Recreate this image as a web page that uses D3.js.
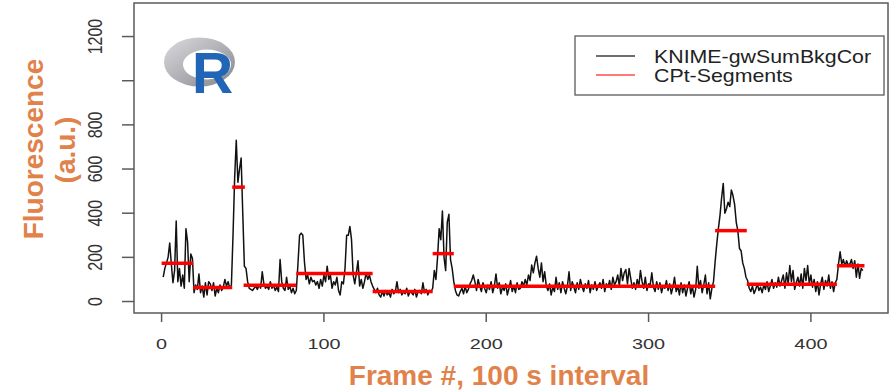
<!DOCTYPE html>
<html>
<head>
<meta charset="utf-8">
<script src="https://cdn.jsdelivr.net/npm/d3@7"></script>
<style>
  body { margin: 0; background: #fff; }
  text { font-family: "Liberation Sans", Arial, sans-serif; }
</style>
</head>
<body>
<svg id="chart"></svg>
<script>
// fluorescence trace, one value per frame, frame 1 .. 432
const fluor = [
  110,150,175,200,265,170,85,140,365,90,150,70,120,60,330,270,90,215,195,
  40,75,55,125,40,70,20,85,30,90,80,50,85,25,60,40,75,50,65,100,70,90,60,75,
  300,560,730,540,600,650,400,160,
  150,90,60,55,50,60,70,55,75,60,135,80,60,70,55,90,60,75,50,65,45,190,90,60,50,110,55,70,40,60,35,50,
  170,300,310,300,180,100,120,80,110,90,95,75,90,60,100,70,120,90,160,100,120,60,90,75,110,50,30,90,80,150,
  300,300,340,280,120,80,130,185,70,100,60,90,130,100,120,90,70,
  55,40,60,30,20,45,25,50,30,40,20,55,35,45,90,40,55,30,45,35,60,25,45,40,30,55,20,45,50,35,85,40,55,30,50,45,60,
  140,100,200,330,280,410,200,140,360,395,190,150,90,
  50,30,25,45,60,35,70,40,55,80,
  95,120,90,50,100,70,45,85,60,40,
  75,55,90,40,70,125,60,85,35,65,
  50,80,30,60,95,45,70,40,85,55,
  60,90,70,100,75,120,95,165,130,175,
  205,150,110,175,90,135,70,50,80,30,
  65,45,110,55,85,40,90,60,35,70,
  135,50,90,65,40,85,55,100,70,45,
  80,60,95,40,75,55,90,50,70,85,
  60,100,45,80,65,95,55,110,75,90,
  120,70,150,95,130,145,80,150,105,60,
  85,55,100,70,140,90,60,110,50,80,
  75,130,65,45,90,55,85,40,70,60,
  95,50,80,35,65,110,45,70,30,85,
  40,75,25,60,90,35,70,20,55,160,
  60,95,40,75,120,35,85,12,60,90,180,
  260,330,390,470,535,400,420,450,430,505,480,440,360,320,240,230,175,150,110,
  95,60,45,70,36,55,80,50,65,40,
  75,55,90,45,70,100,60,85,65,110,
  70,95,120,60,130,80,163,90,140,55,
  85,110,70,125,60,150,95,163,80,120,
  65,100,45,90,30,80,110,55,95,70,
  120,60,90,45,85,100,
  170,225,170,190,160,185,165,170,190,150,185,110,170,105,150,140
];

// change-point segments
const segStart = [0, 19.5, 43.5, 50.5, 83, 130, 167, 180, 341, 360.5, 416];
const segEnd   = [19.5, 43.5, 51.3, 83, 130, 167, 180, 341, 360.5, 416, 433];
const segLevel = [173, 63, 518, 74, 127, 45, 217, 69, 321, 78, 162];

const xTicks = [0, 100, 200, 300, 400];
const yTicks = [0, 200, 400, 600, 800, 1000, 1200];
const yTickLabels = ["0", "200", "400", "600", "800", "", "1200"];
const legendLabels = ["KNIME-gwSumBkgCor", "CPt-Segments"];
const legendColors = ["#000", "#ff0000"];

const W = 892, H = 390;
const box = {left: 134, right: 888, top: 3, bottom: 313};
const orange = "#E0824A";
const stretch = 1.28; // plot image is stretched sideways

const svg = d3.select("#chart").attr("width", W).attr("height", H);

const x = d3.scaleLinear().domain([-17, 447.5]).range([box.left, box.right]);
const y = d3.scaleLinear().domain([-52, 1352]).range([box.bottom, box.top]);

// plot frame
svg.append("rect")
  .attr("x", box.left).attr("y", box.top)
  .attr("width", box.right - box.left).attr("height", box.bottom - box.top)
  .attr("fill", "none").attr("stroke", "#5a5a5a").attr("stroke-width", 1.5);

// x axis (R style, detached below frame)
const xAxis = svg.append("g").attr("class", "x-axis");
xAxis.selectAll("line").data(xTicks).enter().append("line")
  .attr("x1", d => x(d)).attr("x2", d => x(d))
  .attr("y1", box.bottom).attr("y2", box.bottom + 9)
  .attr("stroke", "#5a5a5a").attr("stroke-width", 1.5);
xAxis.selectAll("text").data(xTicks).enter().append("text")
  .attr("transform", d => `translate(${x(d)},349) scale(${stretch},1)`)
  .attr("text-anchor", "middle")
  .attr("font-size", 15.5)
  .attr("fill", "#333")
  .text(d => d);

// y axis
const yAxis = svg.append("g").attr("class", "y-axis");
yAxis.selectAll("line").data(yTicks).enter().append("line")
  .attr("x1", box.left - 12).attr("x2", box.left)
  .attr("y1", d => y(d)).attr("y2", d => y(d))
  .attr("stroke", "#5a5a5a").attr("stroke-width", 1.5);
yAxis.selectAll("text").data(yTicks).enter().append("text")
  .attr("transform", d => `translate(102,${y(d)}) scale(${stretch},1) rotate(-90)`)
  .attr("text-anchor", "middle")
  .attr("font-size", 16)
  .attr("fill", "#333")
  .text((d, i) => yTickLabels[i]);

// trace
const line = d3.line()
  .x((d, i) => x(i + 1))
  .y(d => y(d));

svg.append("path")
  .datum(fluor)
  .attr("d", line)
  .attr("fill", "none")
  .attr("stroke", "#111")
  .attr("stroke-width", 1.5)
  .attr("stroke-linejoin", "round");

// segments
svg.append("g").selectAll("line").data(segLevel).enter().append("line")
  .attr("x1", (d, i) => x(segStart[i]))
  .attr("x2", (d, i) => x(segEnd[i]))
  .attr("y1", d => y(d)).attr("y2", d => y(d))
  .attr("stroke", "#ff0000")
  .attr("stroke-width", 3.5);

// legend
const lg = svg.append("g").attr("class", "legend");
lg.append("rect")
  .attr("x", 575).attr("y", 36).attr("width", 309).attr("height", 59)
  .attr("fill", "#fff").attr("stroke", "#5a5a5a").attr("stroke-width", 1.3);
legendLabels.forEach((lab, i) => {
  const ly = 56 + i * 19;
  lg.append("line")
    .attr("x1", 596).attr("x2", 635).attr("y1", ly).attr("y2", ly)
    .attr("stroke", legendColors[i]).attr("stroke-width", 1.3)
    .attr("opacity", i === 0 ? 0.75 : 0.7);
  lg.append("text")
    .attr("transform", `translate(654,${ly + 6.5}) scale(1.22,1)`)
    .attr("font-size", 17.5)
    .attr("fill", "#222")
    .text(lab);
});

// R logo
const defs = svg.append("defs");
const grad = defs.append("linearGradient").attr("id", "ringGrad")
  .attr("x1", "0%").attr("y1", "0%").attr("x2", "100%").attr("y2", "100%");
grad.append("stop").attr("offset", "0%").attr("stop-color", "#dcdcdf");
grad.append("stop").attr("offset", "100%").attr("stop-color", "#85868c");

const logo = svg.append("g").attr("class", "rlogo");
const ellipsePath = (cx, cy, rx, ry) =>
  `M${cx - rx},${cy} a${rx},${ry} 0 1,0 ${2 * rx},0 a${rx},${ry} 0 1,0 ${-2 * rx},0 Z`;
logo.append("path")
  .attr("d", ellipsePath(199.5, 62, 35.5, 24.5) + ellipsePath(207, 64.5, 24, 15))
  .attr("fill", "url(#ringGrad)")
  .attr("fill-rule", "evenodd");
logo.append("text")
  .attr("x", 192).attr("y", 93)
  .attr("font-size", 57).attr("font-weight", "bold")
  .attr("fill", "#2165b6")
  .text("R");

// axis titles
svg.append("text")
  .attr("x", 499).attr("y", 385)
  .attr("text-anchor", "middle")
  .attr("font-size", 28).attr("font-weight", "bold")
  .attr("fill", orange)
  .text("Frame #, 100 s interval");

svg.append("text")
  .attr("transform", "translate(43,149) rotate(-90)")
  .attr("text-anchor", "middle")
  .attr("font-size", 28).attr("font-weight", "bold")
  .attr("fill", orange)
  .text("Fluorescence");

svg.append("text")
  .attr("transform", "translate(75,150) rotate(-90)")
  .attr("text-anchor", "middle")
  .attr("font-size", 28).attr("font-weight", "bold")
  .attr("fill", orange)
  .text("(a.u.)");
</script>
</body>
</html>
